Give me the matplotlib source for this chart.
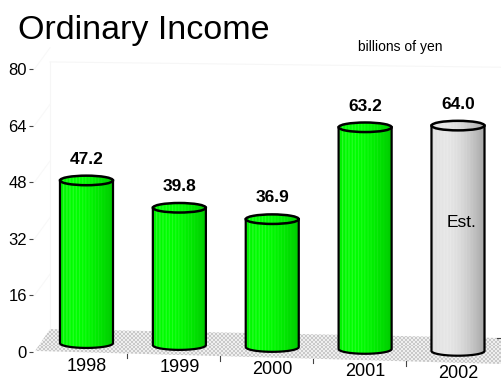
import numpy as np
import matplotlib
matplotlib.use('Agg')
from matplotlib import pyplot as plt
from matplotlib.patches import Polygon, Ellipse

plt.rcParams['font.family'] = ['Liberation Sans', 'DejaVu Sans']

# data
years = ['1998', '1999', '2000', '2001', '2002']
income = [47.2, 39.8, 36.9, 63.2, 64.0]
estimated = [False, False, False, False, True]
yticks = [0, 16, 32, 48, 64, 80]

# layout of the fake 3d scene (category units / value units)
bar_w = 0.571
ell_h = 1.35
px_per_unit = 3.5375
floor = [(-0.393, 6.5), (4.463, 3.96), (4.463, -3.39), (-0.554, 0.3)]


def column_colors(n, base_rgb, dark, light):
    # horizontal shading of a cylinder plus thin vertical light streaks
    u = np.linspace(0, 1, n)
    shade = np.where(u < 0.3, 1 - light * ((0.3 - u) / 0.3) ** 2,
                     1 - dark * ((u - 0.3) / 0.7) ** 1.6)
    streak = 0.45 * (np.sin(u * 2 * np.pi * 17.0 + 0.7) > 0.85) * (1 - u) ** 1.2
    rgb = np.array(base_rgb)[None, :] * shade[:, None]
    rgb = rgb + (1 - rgb) * streak[:, None]
    return np.clip(rgb, 0, 1)[None, :, :]


fig = plt.figure(figsize=(5.01, 3.82), dpi=100)
ax = fig.add_axes([33 / 501, 0, 468 / 501, 1])
ax.set_xlim(-0.576, 4.463)
ax.set_ylim(-30 / px_per_unit, 352 / px_per_unit)
for s in ax.spines.values():
    s.set_visible(False)
ax.set_xticks([])
ax.set_yticks(yticks)
ax.set_yticklabels([str(v) for v in yticks], fontsize=12)
ax.tick_params(axis='y', length=3, width=0.8, color='#444444', pad=1.5)

# faint back wall
wall_col = '#f6f6f6'
ax.plot([floor[0][0], floor[0][0]], [floor[0][1], 82.0], color=wall_col, lw=0.8, zorder=0)
ax.plot([floor[0][0], floor[1][0]], [82.0, 80.5], color=wall_col, lw=0.8, zorder=0)
for v in yticks[1:]:
    ax.plot([-0.56, floor[0][0]], [v, v + 6.0], color='#f8f8f8', lw=0.8, zorder=0)

# checkered floor
fpoly = Polygon(floor, closed=True, facecolor='none', edgecolor='none')
ax.add_patch(fpoly)
nx, ny = 233, 18
ii, jj = np.indices((ny, nx))
checker = np.where((ii + jj) % 2 == 0, 0.79, 0.94)
fx = [p[0] for p in floor]
fy = [p[1] for p in floor]
im = ax.imshow(np.dstack([checker] * 3), extent=[min(fx), max(fx), min(fy), max(fy)],
               aspect='auto', interpolation='nearest', zorder=1)
im.set_clip_path(fpoly)

# floor ticks along the front edge
slope = (floor[2][1] - floor[3][1]) / (floor[2][0] - floor[3][0])
for i in range(len(years) - 1):
    tx = i + 0.44
    ty = floor[3][1] + slope * (tx - floor[3][0])
    ax.plot([tx, tx], [ty, ty - 1.3], color='#444444', lw=0.8, zorder=2)
ax.plot([floor[1][0] - 0.04, floor[1][0]], [floor[1][1], floor[1][1]], color='#444444', lw=0.8, zorder=2)

# cylinders
a = bar_w / 2
b = ell_h
t_low = np.linspace(np.pi, 2 * np.pi, 60)
t_up = np.linspace(0, np.pi, 60)
for i, (yr, val, est) in enumerate(zip(years, income, estimated)):
    k = 1 - i / (len(years) - 1)
    base = 0.3 + 2.2 * k
    top = val + 1.3 * k
    cx = i

    xs = np.concatenate([cx + a * np.cos(t_low), cx + a * np.cos(t_up)])
    ys = np.concatenate([base + b * np.sin(t_low), top + b * np.sin(t_up)])
    body = Polygon(np.column_stack([xs, ys]), closed=True, facecolor='none', edgecolor='none')
    ax.add_patch(body)

    if est:
        cols = column_colors(300, (0.90, 0.90, 0.90), 0.28, 0.04)
    else:
        cols = column_colors(300, (0.0, 1.0, 0.0), 0.22, 0.06)
    bim = ax.imshow(cols, extent=[cx - a, cx + a, base - b, top + b],
                    aspect='auto', interpolation='bilinear', zorder=3)
    bim.set_clip_path(body)

    # outline
    ox = np.concatenate([[cx - a], cx + a * np.cos(t_low), [cx + a]])
    oy = np.concatenate([[top], base + b * np.sin(t_low), [top]])
    ax.plot(ox, oy, color='black', lw=1.6, zorder=4, solid_joinstyle='round')
    ax.add_patch(Ellipse((cx, top), 2 * a, 2 * b, facecolor='none',
                         edgecolor='black', lw=1.8, zorder=4))

    ax.text(cx, top + 6.0, '%.1f' % val, ha='center', va='center',
            fontsize=12.5, fontweight='bold', zorder=5)
    ax.text(cx, -4.0 - 0.5 * i, yr, ha='center', va='center', fontsize=13, zorder=5)
    if est:
        ax.text(cx + 0.04, 36.5, 'Est.', ha='center', va='center', fontsize=12.5, zorder=5)

fig.text(18 / 501, 1 - 39 / 382, 'Ordinary Income', fontsize=24.5, va='baseline')
fig.text(358 / 501, 1 - 51 / 382, 'billions of yen', fontsize=10, va='baseline')

plt.savefig('out.png', dpi=100)
